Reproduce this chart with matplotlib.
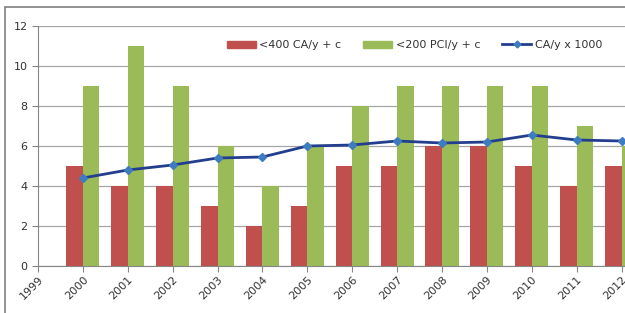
import matplotlib.pyplot as plt
from matplotlib.patches import Rectangle
from matplotlib.lines import Line2D

years = ['1999', '2000', '2001', '2002', '2003', '2004', '2005', '2006',
         '2007', '2008', '2009', '2010', '2011', '2012']
ca400 = [5, 4, 4, 3, 2, 3, 5, 5, 6, 6, 5, 4, 5]
pci200 = [9, 11, 9, 6, 4, 6, 8, 9, 9, 9, 9, 7, 6]
ca_per_year = [4.4, 4.8, 5.05, 5.4, 5.45, 6.0, 6.05, 6.25, 6.15, 6.2, 6.55, 6.3, 6.25]

red = '#C0504D'
green = '#9BBB59'
navy = '#233E8E'
marker_blue = '#3E7CC0'

fig = plt.figure(figsize=(6.25, 3.13), dpi=100)
# axes runs past the right edge so the last year is cut off like the original
ax = fig.add_axes([38 / 625, 47 / 313, 606 / 625, 240 / 313])

pos = list(range(1, len(years)))
w = 0.37
ax.bar([p - w / 2 for p in pos], ca400, width=w, color=red, label='<400 CA/y + c', zorder=2)
ax.bar([p + w / 2 for p in pos], pci200, width=w, color=green, label='<200 PCI/y + c', zorder=2)
ax.plot(pos, ca_per_year, color=navy, lw=2, marker='D', ms=4.5,
        mfc=marker_blue, mec=marker_blue, label='CA/y x 1000', zorder=3)

ax.set_xlim(0, 13.5)
ax.set_ylim(0, 12)
ax.set_yticks(range(0, 13, 2))
ax.set_xticks(range(len(years)))
ax.set_xticklabels(years, rotation=45, ha='right', rotation_mode='anchor')
ax.grid(axis='y', color='#A6A6A6', lw=0.9, zorder=0)
ax.set_axisbelow(True)

for s in ['top', 'right']:
    ax.spines[s].set_visible(False)
ax.spines['left'].set_color('#868686')
ax.spines['bottom'].set_color('#868686')
ax.tick_params(axis='both', colors='#868686', labelcolor='#333333', labelsize=8, length=4)
ax.tick_params(axis='x', pad=2)

handles = [Rectangle((0, 0), 1, 1, color=red),
           Rectangle((0, 0), 1, 1, color=green),
           Line2D([], [], color=navy, lw=2, marker='D', ms=3.5, mfc=marker_blue, mec=marker_blue)]
leg = ax.legend(handles, ['<400 CA/y + c', '<200 PCI/y + c', 'CA/y x 1000'],
                loc='center', bbox_to_anchor=(0.621, 0.921), ncol=3, frameon=True,
                fontsize=8, handlelength=2.6, handleheight=0.6, handletextpad=0.3,
                columnspacing=2.0, borderpad=0.3, fancybox=False)
leg.get_frame().set_edgecolor('white')
leg.get_frame().set_facecolor('white')
leg.get_frame().set_alpha(1)
for t in leg.get_texts():
    t.set_color('#333333')

# outer chart frame
fig.patches.append(Rectangle((5 / 625, -0.1), 1.2, (313 - 7) / 313 + 0.1,
                             transform=fig.transFigure, fill=False,
                             edgecolor='#7F7F7F', lw=1.2))

fig.savefig('out.png', dpi=100)
